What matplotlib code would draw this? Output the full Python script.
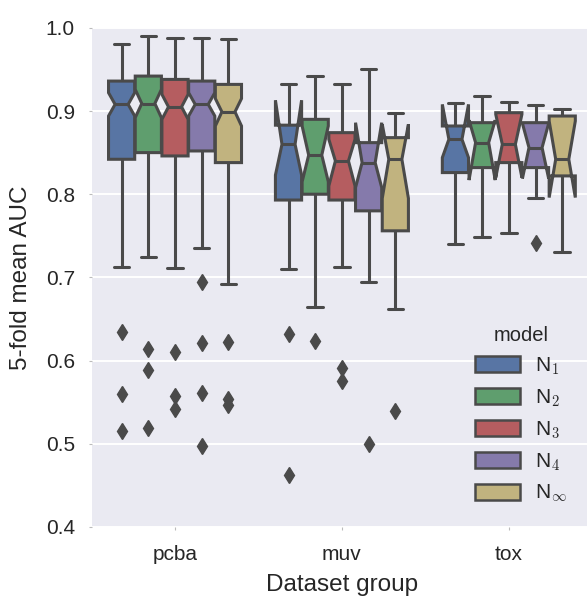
import matplotlib
matplotlib.use("Agg")
import matplotlib.pyplot as plt
import matplotlib.patches as mpatches
import numpy as np

plt.rcParams["font.family"] = ["Liberation Sans", "DejaVu Sans"]
plt.rcParams["mathtext.fontset"] = "cm"

groups = ["pcba", "muv", "tox"]
models = ["N$_1$", "N$_2$", "N$_3$", "N$_4$", "N$_\\infty$"]

# summary stats, one row per group, one column per model
whishi = [[0.981, 0.990, 0.988, 0.988, 0.986],
          [0.932, 0.942, 0.933, 0.951, 0.898],
          [0.910, 0.918, 0.911, 0.907, 0.903]]
q3 = [[0.936, 0.942, 0.938, 0.936, 0.932],
      [0.883, 0.890, 0.874, 0.862, 0.868],
      [0.882, 0.886, 0.898, 0.886, 0.894]]
cihi = [[0.922, 0.926, 0.920, 0.922, 0.915],
        [0.913, 0.882, 0.866, 0.886, 0.884],
        [0.908, 0.889, 0.896, 0.885, 0.888]]
med = [[0.908, 0.909, 0.905, 0.908, 0.899],
       [0.860, 0.847, 0.840, 0.838, 0.842],
       [0.866, 0.862, 0.860, 0.856, 0.842]]
cilo = [[0.894, 0.892, 0.890, 0.894, 0.882],
        [0.823, 0.815, 0.810, 0.808, 0.795],
        [0.844, 0.817, 0.820, 0.819, 0.796]]
q1 = [[0.842, 0.850, 0.846, 0.852, 0.838],
      [0.793, 0.800, 0.793, 0.780, 0.756],
      [0.826, 0.832, 0.838, 0.832, 0.822]]
whislo = [[0.713, 0.724, 0.711, 0.735, 0.692],
          [0.710, 0.665, 0.712, 0.694, 0.662],
          [0.740, 0.748, 0.753, 0.795, 0.731]]
fliers = [[[0.634, 0.560, 0.515], [0.614, 0.589, 0.519], [0.610, 0.557, 0.542],
           [0.694, 0.621, 0.561, 0.497], [0.622, 0.554, 0.547]],
          [[0.632, 0.462], [0.624], [0.591, 0.576], [0.500], [0.539]],
          [[], [], [], [0.741], []]]

COLORS = ["#5875a4", "#5f9e6e", "#b55d60", "#857aab", "#c1b37f"]
GRAY = "#4a4a4a"
BG = "#eaeaf2"
TEXT = "#262626"

fig = plt.figure(figsize=(5.87, 5.96), dpi=100)
ax = fig.add_axes([0.156, 0.1158, 0.853, 0.8375])
ax.set_facecolor(BG)
ax.set_axisbelow(True)
ax.grid(axis="y", color="white", linewidth=1.4)
for spine in ax.spines.values():
    spine.set_visible(False)

n = len(models)
width = 0.8 / n
offsets = (np.arange(n) - (n - 1) / 2) * width

for gi, g in enumerate(groups):
    stats = []
    for mi in range(n):
        stats.append(dict(med=med[gi][mi], q1=q1[gi][mi], q3=q3[gi][mi],
                          whislo=whislo[gi][mi], whishi=whishi[gi][mi],
                          cilo=cilo[gi][mi], cihi=cihi[gi][mi],
                          fliers=np.array(fliers[gi][mi])))
    arts = ax.bxp(stats, positions=gi + offsets, widths=width * 0.98,
                  capwidths=width * 0.58,
                  shownotches=True, patch_artist=True, manage_ticks=False,
                  boxprops=dict(edgecolor=GRAY, linewidth=2.2),
                  whiskerprops=dict(color=GRAY, linewidth=2.2, solid_capstyle="butt"),
                  capprops=dict(color=GRAY, linewidth=2.2, solid_capstyle="round"),
                  medianprops=dict(color=GRAY, linewidth=2.2),
                  flierprops=dict(marker="d", markerfacecolor=GRAY,
                                  markeredgecolor=GRAY, markersize=8.5))
    for box, c in zip(arts["boxes"], COLORS):
        box.set_facecolor(c)

ax.set_xlim(-0.5, len(groups) - 0.5)
ax.set_ylim(0.4, 1.0)
ax.set_yticks(np.arange(0.4, 1.01, 0.1))
ax.set_yticklabels([f"{v:.1f}" for v in np.arange(0.4, 1.01, 0.1)])
ax.set_xticks(range(len(groups)))
ax.set_xticklabels(groups)
ax.tick_params(axis="both", length=2, width=0.8, color="#bbbbbb",
               labelcolor=TEXT, labelsize=15)
ax.tick_params(axis="y", pad=10)
ax.tick_params(axis="x", pad=11)
ax.set_xlabel("Dataset group", fontsize=17.5, color=TEXT, labelpad=7)
ax.set_ylabel("5-fold mean AUC", fontsize=17.5, color=TEXT, labelpad=10)

handles = [mpatches.Patch(facecolor=c, edgecolor=GRAY, linewidth=1.8) for c in COLORS]
leg = ax.legend(handles, models, title="model", frameon=False,
                loc="upper left", bbox_to_anchor=(0.777, 0.485),
                bbox_transform=fig.transFigure,
                fontsize=15, title_fontsize=14.5, handlelength=2.16,
                handleheight=0.8, handletextpad=0.75, labelspacing=0.5)
leg.get_title().set_color(TEXT)
for t in leg.get_texts():
    t.set_color(TEXT)

fig.savefig("out.png", dpi=100)
